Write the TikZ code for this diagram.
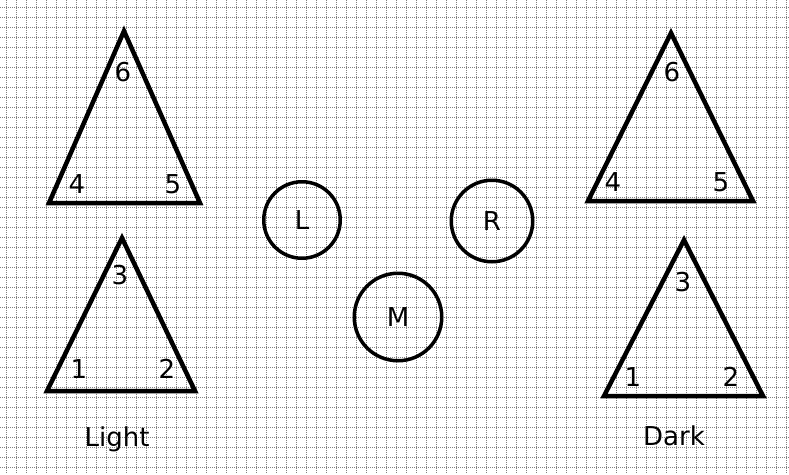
\documentclass[tikz,border=0pt]{standalone}
\usepackage{fontspec}
\setmainfont{DejaVu Sans}
\usepackage{xcolor}
\usepackage{tikz}
\usetikzlibrary{shapes}
\tikzstyle{gridline}=[gray,line width=1pt,dash pattern=on 1pt off 1pt]
\tikzstyle{tri}=[draw=black,line width=4.5pt,line join=miter]
\tikzstyle{ball}=[circle,draw=black,line width=3.5pt,inner sep=0pt,font=\fontsize{26}{26}\selectfont]
\tikzstyle{num}=[inner sep=0pt,font=\fontsize{26}{26}\selectfont]
\tikzstyle{caption}=[inner sep=0pt,anchor=base,font=\fontsize{26}{26}\selectfont]

\begin{document}
\begin{tikzpicture}[x=1pt,y=-1pt]
        \useasboundingbox (0,0) rectangle (789,474);
        \fill [white] (0,0) rectangle (789,474);
        \foreach \x in {6.5,16.5,...,786.5} \draw [gridline] (\x,0) -- (\x,474);
        \foreach \y in {7.5,17.5,...,467.5} \draw [gridline] (0,\y) -- (789,\y);

        % light side
        \draw [tri] (124,31) -- (200,203) -- (49,203) -- cycle;
        \draw [tri] (122,238) -- (195,391) -- (47,391) -- cycle;
        \node at (123,72)  [num] (l6) {6};
        \node at (77,184)  [num] (l4) {4};
        \node at (173,184) [num] (l5) {5};
        \node at (120,275) [num] (l3) {3};
        \node at (79,369)  [num] (l1) {1};
        \node at (167,369) [num] (l2) {2};
        \node at (117,446) [caption] (light) {Light};

        % dark side
        \draw [tri] (671,33) -- (753,201) -- (588,201) -- cycle;
        \draw [tri] (684,240) -- (763,396) -- (604,396) -- cycle;
        \node at (672,72)  [num] (d6) {6};
        \node at (613,182) [num] (d4) {4};
        \node at (721,182) [num] (d5) {5};
        \node at (683,282) [num] (d3) {3};
        \node at (633,377) [num] (d1) {1};
        \node at (731,377) [num] (d2) {2};
        \node at (674,445) [caption] (dark) {Dark};

        % middle
        \node at (302,220) [ball,minimum size=76.5pt] (L) {L};
        \node at (492,221) [ball,minimum size=81.5pt] (R) {R};
        \node at (398,317) [ball,minimum size=87.5pt] (M) {M};
      \end{tikzpicture}
\end{document}
